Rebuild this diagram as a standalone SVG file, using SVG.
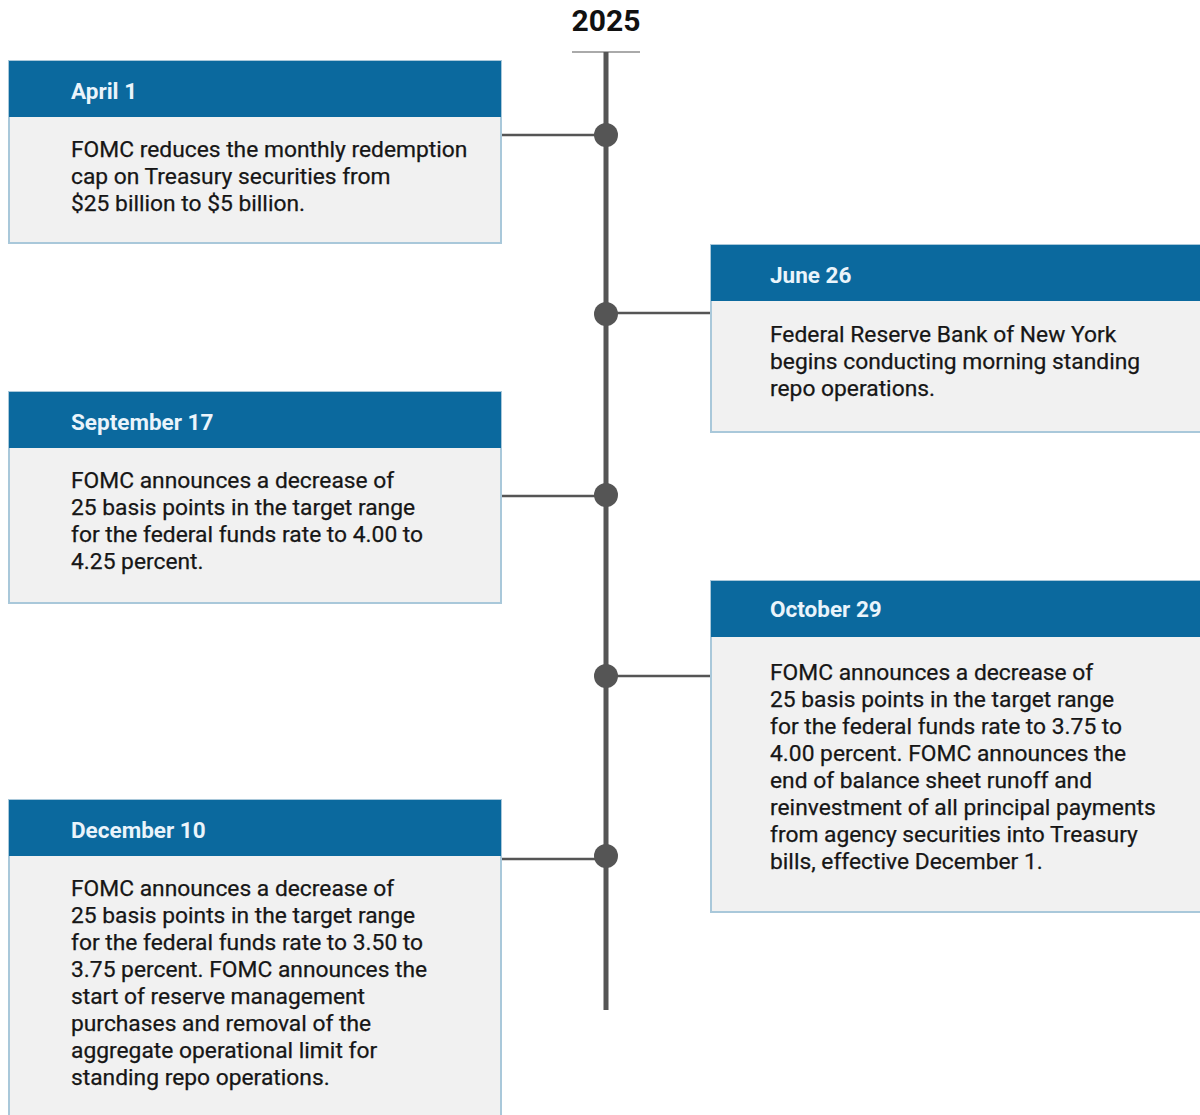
<svg xmlns="http://www.w3.org/2000/svg" width="1200" height="1115" viewBox="0 0 1200 1115">
<style>
.box{fill:#f1f1f1;stroke:#a9c8da;stroke-width:2}
.hdr{fill:#0b699e}
.ht{font-family:Roboto,"Liberation Sans",sans-serif;font-weight:bold;font-size:22.5px;fill:#eaf4fb}
.bt{font-family:Roboto,"Liberation Sans",sans-serif;font-size:22.8px;fill:#161616;stroke:#161616;stroke-width:0.25}
.conn{stroke:#555;stroke-width:2.5;fill:none}
.dot{fill:#555}
</style>
<rect width="1200" height="1115" fill="#ffffff"/>
<g id="title">
<text x="606" y="31" text-anchor="middle" font-family="Roboto,'Liberation Sans',sans-serif" font-weight="bold" font-size="30" fill="#111">2025</text>
</g>
<g id="connectors">
<line x1="572" y1="52" x2="640" y2="52" stroke="#aaa" stroke-width="2"/>
<line x1="606" y1="52" x2="606" y2="1010" stroke="#555" stroke-width="5"/>
<line class="conn" x1="501" y1="135" x2="606" y2="135"/>
<line class="conn" x1="606" y1="313" x2="711" y2="313"/>
<line class="conn" x1="501" y1="496" x2="606" y2="496"/>
<line class="conn" x1="606" y1="676" x2="711" y2="676"/>
<line class="conn" x1="501" y1="859" x2="606" y2="859"/>
<circle class="dot" cx="606" cy="135" r="12"/>
<circle class="dot" cx="606" cy="314" r="12"/>
<circle class="dot" cx="606" cy="495" r="12"/>
<circle class="dot" cx="606" cy="676" r="12"/>
<circle class="dot" cx="606" cy="856" r="12"/>
</g>
<g id="april1">
<rect class="box" x="9" y="61" width="492" height="182"/>
<rect class="hdr" x="9" y="61" width="492" height="56"/>
<text class="ht" x="71" y="99">April 1</text>
<text class="bt" x="71" y="157">FOMC reduces the monthly redemption</text>
<text class="bt" x="71" y="184">cap on Treasury securities from</text>
<text class="bt" x="71" y="211">$25 billion to $5 billion.</text>
</g>
<g id="june26">
<rect class="box" x="711" y="245" width="495" height="187"/>
<rect class="hdr" x="711" y="245" width="495" height="56"/>
<text class="ht" x="770" y="283">June 26</text>
<text class="bt" x="770" y="342">Federal Reserve Bank of New York</text>
<text class="bt" x="770" y="369">begins conducting morning standing</text>
<text class="bt" x="770" y="396">repo operations.</text>
</g>
<g id="september17">
<rect class="box" x="9" y="392" width="492" height="211"/>
<rect class="hdr" x="9" y="392" width="492" height="56"/>
<text class="ht" x="71" y="430">September 17</text>
<text class="bt" x="71" y="488">FOMC announces a decrease of</text>
<text class="bt" x="71" y="515">25 basis points in the target range</text>
<text class="bt" x="71" y="542">for the federal funds rate to 4.00 to</text>
<text class="bt" x="71" y="569">4.25 percent.</text>
</g>
<g id="october29">
<rect class="box" x="711" y="581" width="495" height="331"/>
<rect class="hdr" x="711" y="581" width="495" height="56"/>
<text class="ht" x="770" y="617">October 29</text>
<text class="bt" x="770" y="680">FOMC announces a decrease of</text>
<text class="bt" x="770" y="707">25 basis points in the target range</text>
<text class="bt" x="770" y="734">for the federal funds rate to 3.75 to</text>
<text class="bt" x="770" y="761">4.00 percent. FOMC announces the</text>
<text class="bt" x="770" y="788">end of balance sheet runoff and</text>
<text class="bt" x="770" y="815">reinvestment of all principal payments</text>
<text class="bt" x="770" y="842">from agency securities into Treasury</text>
<text class="bt" x="770" y="869">bills, effective December 1.</text>
</g>
<g id="december10">
<rect class="box" x="9" y="800" width="492" height="330"/>
<rect class="hdr" x="9" y="800" width="492" height="56"/>
<text class="ht" x="71" y="838">December 10</text>
<text class="bt" x="71" y="896">FOMC announces a decrease of</text>
<text class="bt" x="71" y="923">25 basis points in the target range</text>
<text class="bt" x="71" y="950">for the federal funds rate to 3.50 to</text>
<text class="bt" x="71" y="977">3.75 percent. FOMC announces the</text>
<text class="bt" x="71" y="1004">start of reserve management</text>
<text class="bt" x="71" y="1031">purchases and removal of the</text>
<text class="bt" x="71" y="1058">aggregate operational limit for</text>
<text class="bt" x="71" y="1085">standing repo operations.</text>
</g>
</svg>
